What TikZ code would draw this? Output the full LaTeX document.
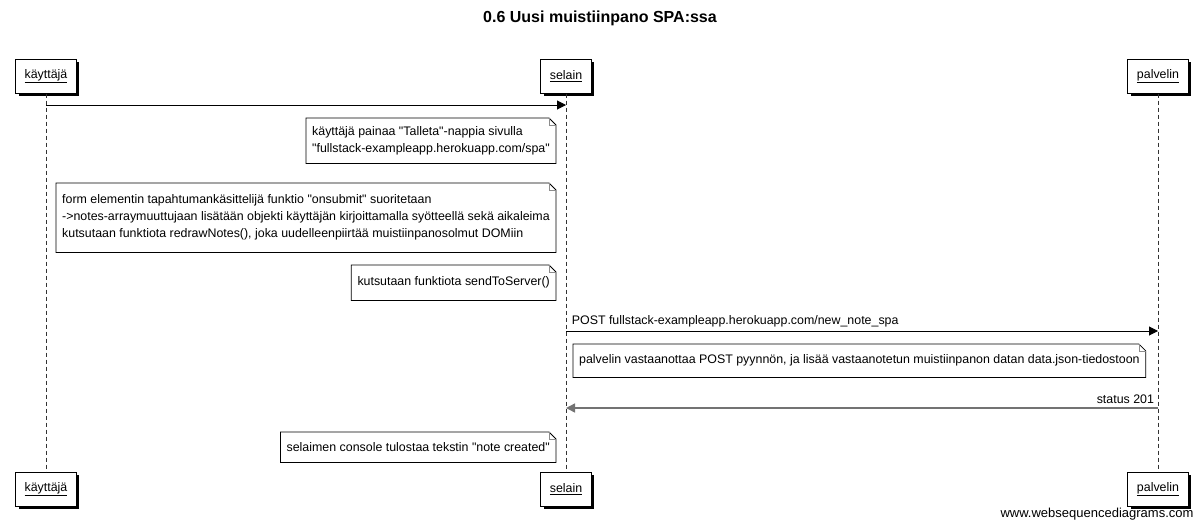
\documentclass[tikz,border=0pt]{standalone}
\usepackage{fontspec}
\setmainfont{Liberation Sans}[Ligatures=TeXOff]
\usetikzlibrary{positioning,arrows.meta,shadows}

% note outline with a folded corner
\newcommand\taite[1]{%
  \draw[line width=0.8pt] (#1.south west) -- (#1.north west) -- ([xshift=-7pt]#1.north east)
    -- ([yshift=-7pt]#1.north east) -- (#1.south east) -- cycle;
  \draw[black!45, line width=0.6pt] ([xshift=-7pt]#1.north east) |- ([yshift=-7pt]#1.north east);}

\begin{document}
\begin{tikzpicture}[
  x=1pt, y=-1pt,
  every node/.style={font=\fontsize{12.4}{17}\selectfont},
  toimija/.style={draw, fill=white, line width=1pt, minimum height=34pt, inner xsep=9pt,
    drop shadow={shadow xshift=3pt, shadow yshift=-3pt, opacity=1, fill=black}},
  elama/.style={black!80, line width=0.8pt, dash pattern=on 4pt off 3pt},
  viesti/.style={line width=1pt, -{Triangle[length=9pt,width=9pt]}},
  huom/.style={align=left, inner xsep=6pt}
]
\useasboundingbox (0,0) rectangle (1200,528);

\node[font=\fontsize{16}{19}\selectfont\bfseries] (otsikko) at (600,18) {0.6 Uusi muistiinpano SPA:ssa};

% osapuolet
\node[toimija] (kayttaja) at (46,76) {\underline{käyttäjä}};
\node[toimija] (selain) at (566,76) {\underline{selain}};
\node[toimija] (palvelin) at (1158,76) {\underline{palvelin}};
\node[toimija] (kayttaja2) at (46,489) {\underline{käyttäjä}};
\node[toimija] (selain2) at (566,489) {\underline{selain}};
\node[toimija] (palvelin2) at (1158,489) {\underline{palvelin}};

\draw[elama] (kayttaja) -- (kayttaja2);
\draw[elama] (selain) -- (selain2);
\draw[elama] (palvelin) -- (palvelin2);

% viestit
\coordinate (v1) at (0,105);
\coordinate (v2) at (0,331);
\coordinate (v3) at (0,408);
\draw[viesti] (kayttaja |- v1) -- (selain |- v1);
\draw[viesti] (selain |- v2) -- (palvelin |- v2)
  node[pos=0, anchor=south west, xshift=2pt] (post) {POST fullstack-exampleapp.herokuapp.com/new\_note\_spa};
\draw[viesti, black!55, line width=1.4pt] (palvelin |- v3) -- (selain |- v3)
  node[pos=0, anchor=south east, text=black] (status) {status 201};

% huomautukset
\node[huom, anchor=north east, minimum height=45pt] (painaa) at (556,118)
  {käyttäjä painaa "Talleta"-nappia sivulla\\"fullstack-exampleapp.herokuapp.com/spa"};
\node[huom, anchor=north east, minimum height=69pt] (onsubmit) at (556,183)
  {form elementin tapahtumankäsittelijä funktio "onsubmit" suoritetaan\\->notes-arraymuuttujaan lisätään objekti käyttäjän kirjoittamalla syötteellä sekä aikaleima\\kutsutaan funktiota redrawNotes(), joka uudelleenpiirtää muistiinpanosolmut DOMiin};
\node[huom, anchor=north east, minimum height=35pt] (laheta) at (556,265)
  {kutsutaan funktiota sendToServer()};
\node[huom, anchor=north west, minimum height=33pt] (tallennus) at (573,344)
  {palvelin vastaanottaa POST pyynnön, ja lisää vastaanotetun muistiinpanon datan data.json-tiedostoon};
\node[huom, anchor=north east, minimum height=30pt] (konsoli) at (556,432)
  {selaimen console tulostaa tekstin "note created"};
\taite{painaa}
\taite{onsubmit}
\taite{laheta}
\taite{tallennus}
\taite{konsoli}

\node[anchor=east, font=\fontsize{13}{15}\selectfont] (wsd) at (1197,514) {www.websequencediagrams.com};
\end{tikzpicture}
\end{document}
